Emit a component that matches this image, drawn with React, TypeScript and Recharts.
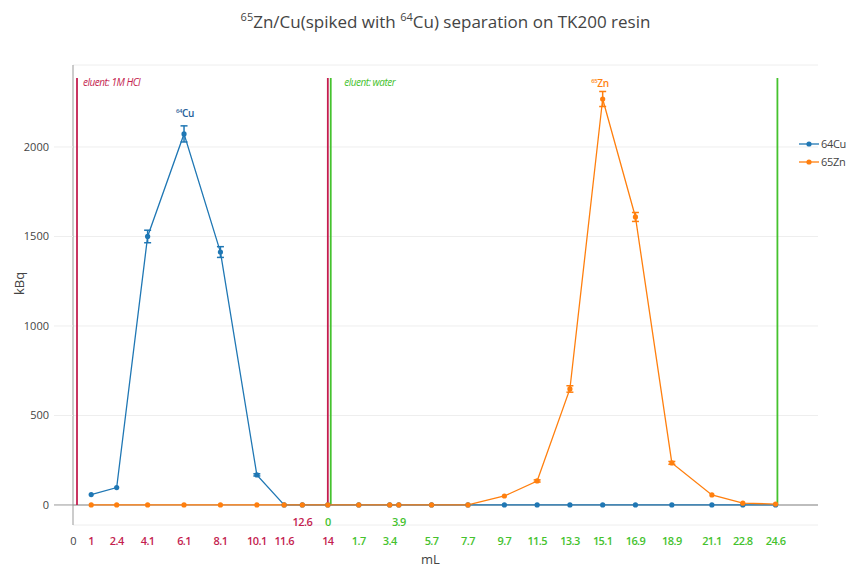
import React from 'react';
import {
  LineChart, Line, XAxis, YAxis, CartesianGrid, ErrorBar, ReferenceLine, ReferenceDot,
} from 'recharts';

// cumulative eluted volume (mL); HCl fractions up to 14, water after that
const volumes = [1, 2.4, 4.1, 6.1, 8.1, 10.1, 11.6, 12.6, 14, 15.7, 17.4, 17.9, 19.7, 21.7, 23.7, 25.5, 27.3, 29.1, 30.9, 32.9, 35.1, 36.8, 38.6];
const cu64 = [58, 97, 1500, 2073, 1413, 168, 0, 0, 0, 0, 0, 0, 0, 0, 0, 0, 0, 0, 0, 0, 0, 0, 0];
const cu64Err = [null, null, 35, 45, 30, 6, null, null, null, null, null, null, null, null, null, null, null, null, null, null, null, null, null];
const zn65 = [0, 0, 0, 0, 0, 0, 0, 0, 0, 0, 0, 0, 0, 0, 50, 134, 648, 2268, 1609, 235, 56, 10, 5];
const zn65Err = [null, null, null, null, null, null, null, null, null, null, null, null, null, null, null, 6, 18, 42, 25, 8, null, null, null];

// x tick labels: bottom row and the extra upper row
const tickValues = [0, 1, 2.4, 4.1, 6.1, 8.1, 10.1, 11.6, 12.6, 14, 15.7, 17.4, 17.9, 19.7, 21.7, 23.7, 25.5, 27.3, 29.1, 30.9, 32.9, 35.1, 36.8, 38.6];
const tickBottom = ['0', '1', '2.4', '4.1', '6.1', '8.1', '10.1', '11.6', '', '14', '1.7', '3.4', '', '5.7', '7.7', '9.7', '11.5', '13.3', '15.1', '16.9', '18.9', '21.1', '22.8', '24.6'];
const tickTop = ['', '', '', '', '', '', '', '', '12.6', '0', '', '', '3.9', '', '', '', '', '', '', '', '', '', '', ''];
const tickBottomPhase = ['none', 'hcl', 'hcl', 'hcl', 'hcl', 'hcl', 'hcl', 'hcl', 'hcl', 'hcl', 'water', 'water', 'water', 'water', 'water', 'water', 'water', 'water', 'water', 'water', 'water', 'water', 'water', 'water'];
const tickTopPhase = ['', '', '', '', '', '', '', '', 'hcl', 'water', '', '', 'water', '', '', '', '', '', '', '', '', '', '', ''];
const yTicks = [0, 500, 1000, 1500, 2000];

// eluent marker lines
const markerX = [0.22, 14, 14.16, 38.7];
const markerPhase = ['hcl', 'hcl', 'water', 'water'];
const markerTop = 2385;

const CRIMSON = '#c41e50';
const GREEN = '#45c22e';
const BLUE = '#1f77b4';
const ORANGE = '#ff7f0e';
const phaseColor: Record<string, string> = { hcl: CRIMSON, water: GREEN, none: '#444' };

const data = volumes.map((v, i) => ({
  v,
  cu: cu64[i],
  cuErr: cu64Err[i],
  zn: zn65[i],
  znErr: zn65Err[i],
}));

const FONT = '"Open Sans", "DejaVu Sans", sans-serif';

function XTick(props: any) {
  const { x, y, payload } = props;
  const i = tickValues.indexOf(payload.value);
  if (i < 0) return null;
  return (
    <g>
      {tickTop[i] && (
        <text x={x} y={y - 7} textAnchor="middle" fontSize={11} fontWeight={600} fill={phaseColor[tickTopPhase[i]]} letterSpacing={-0.6} fontFamily={FONT}>
          {tickTop[i]}
        </text>
      )}
      {tickBottom[i] && (
        <text x={x} y={y + 12} textAnchor="middle" fontSize={11} fontWeight={tickBottomPhase[i] === 'none' ? 400 : 600} fill={phaseColor[tickBottomPhase[i]]} letterSpacing={-0.6} fontFamily={FONT}>
          {tickBottom[i]}
        </text>
      )}
    </g>
  );
}

function YTick(props: any) {
  const { x, y, payload } = props;
  return (
    <g>
      <line x1={x - 19} x2={x} y1={y} y2={y} stroke={payload.value === 0 ? '#999' : '#eee'} strokeWidth={1} />
      <text x={x - 24} y={y + 4} textAnchor="end" fontSize={11} fill="#444" fontFamily={FONT}>
        {payload.value}
      </text>
    </g>
  );
}

export default function App() {
  return (
    <div style={{ position: 'relative', width: 850, height: 569, background: '#fff', fontFamily: FONT }}>
      <style>{'body{margin:0}'}</style>
      <div style={{ position: 'absolute', top: 10, left: 73, width: 745, textAlign: 'center', fontSize: 17, color: '#444', lineHeight: '24px' }}>
        <sup style={{ fontSize: 11, verticalAlign: 'top', lineHeight: '14px' }}>65</sup>Zn/Cu(spiked with <sup style={{ fontSize: 11, verticalAlign: 'top', lineHeight: '14px' }}>64</sup>Cu) separation on TK200 resin
      </div>

      <LineChart width={850} height={569} data={data} margin={{ top: 65, right: 32, left: 0, bottom: 0 }}>
        <CartesianGrid vertical={false} stroke="#eee" />
        <XAxis
          type="number"
          dataKey="v"
          domain={[0, 40.93]}
          ticks={tickValues}
          interval={0}
          tick={<XTick />}
          tickLine={false}
          axisLine={false}
          height={44}
          label={{ value: 'mL', position: 'insideBottom', offset: 5, dx: -15, fill: '#444', fontSize: 13 }}
        />
        <YAxis
          type="number"
          domain={[-112, 2458]}
          ticks={yTicks}
          allowDataOverflow
          width={73}
          tick={<YTick />}
          tickLine={false}
          tickSize={0}
          tickMargin={0}
          axisLine={{ stroke: '#999' }}
          label={{ value: 'kBq', angle: -90, position: 'insideLeft', offset: 19, fill: '#444', fontSize: 13 }}
        />
        <ReferenceLine y={0} stroke="#aaa" strokeWidth={1.5} />
        {markerX.map((mx, i) => (
          <ReferenceLine
            key={i}
            segment={[{ x: mx, y: 0 }, { x: mx, y: markerTop }]}
            stroke={phaseColor[markerPhase[i]]}
            strokeWidth={1.8}
          />
        ))}
        <Line
          type="linear"
          dataKey="cu"
          name="64Cu"
          stroke={BLUE}
          strokeWidth={1.3}
          dot={{ r: 2.6, fill: BLUE, stroke: BLUE, strokeWidth: 0 }}
          activeDot={false}
          isAnimationActive={false}
        >
          <ErrorBar dataKey="cuErr" width={3.5} strokeWidth={1.5} stroke={BLUE} direction="y" />
        </Line>
        <Line
          type="linear"
          dataKey="zn"
          name="65Zn"
          stroke={ORANGE}
          strokeWidth={1.3}
          dot={{ r: 2.6, fill: ORANGE, stroke: ORANGE, strokeWidth: 0 }}
          activeDot={false}
          isAnimationActive={false}
        >
          <ErrorBar dataKey="znErr" width={3.5} strokeWidth={1.5} stroke={ORANGE} direction="y" />
        </Line>
        <ReferenceDot
          x={0.55}
          y={2357}
          r={0}
          shape={(p: any) => (
            <text x={p.cx} y={p.cy + 3} fontSize={10} fontStyle="italic" fill={CRIMSON} letterSpacing={-0.5} fontFamily={FONT}>
              eluent: 1M HCl
            </text>
          )}
        />
        <ReferenceDot
          x={14.9}
          y={2357}
          r={0}
          shape={(p: any) => (
            <text x={p.cx} y={p.cy + 3} fontSize={10} fontStyle="italic" fill={GREEN} letterSpacing={-0.5} fontFamily={FONT}>
              eluent: water
            </text>
          )}
        />
        <ReferenceDot
          x={6.15}
          y={2190}
          r={0}
          shape={(p: any) => (
            <text x={p.cx} y={p.cy + 4} textAnchor="middle" fill="#1f5f9a" fontWeight={600} fontFamily={FONT} letterSpacing={-0.4}>
              <tspan fontSize={6} dy={-4}>64</tspan>
              <tspan fontSize={10} dy={4}>Cu</tspan>
            </text>
          )}
        />
        <ReferenceDot
          x={28.95}
          y={2357}
          r={0}
          shape={(p: any) => (
            <text x={p.cx} y={p.cy + 4} textAnchor="middle" fill={ORANGE} fontWeight={600} fontFamily={FONT} letterSpacing={-0.4}>
              <tspan fontSize={6} dy={-4}>65</tspan>
              <tspan fontSize={10} dy={4}>Zn</tspan>
            </text>
          )}
        />
      </LineChart>

      <div style={{ position: 'absolute', left: 798, top: 135, fontSize: 11, color: '#444', lineHeight: '18px', whiteSpace: 'nowrap' }}>
        {[{ name: '64Cu', color: BLUE }, { name: '65Zn', color: ORANGE }].map((s) => (
          <div key={s.name} style={{ display: 'flex', alignItems: 'center' }}>
            <svg width={22} height={18}>
              <line x1={1} x2={21} y1={9} y2={9} stroke={s.color} strokeWidth={1.3} />
              <circle cx={11} cy={9} r={2.6} fill={s.color} />
            </svg>
            <span style={{ marginLeft: 1, letterSpacing: -0.3 }}>{s.name}</span>
          </div>
        ))}
      </div>
    </div>
  );
}
